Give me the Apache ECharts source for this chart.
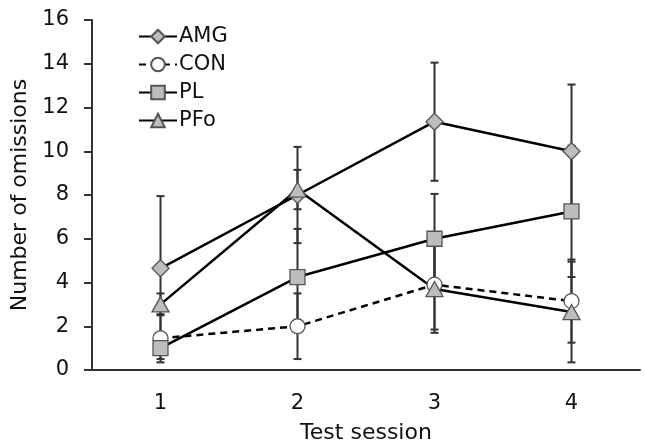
<!DOCTYPE html>
<html>
<head>
<meta charset="utf-8">
<script src="https://cdn.jsdelivr.net/npm/echarts@6/dist/echarts.min.js"></script>
<style>
  html, body { margin: 0; padding: 0; background: #fff; }
  #chart-container { width: 645px; height: 444px; }
</style>
</head>
<body>
<div id="chart-container"></div>
<script>
var sessions = ['1', '2', '3', '4'];

// mean values per group
var amgMean = [4.65, 8.0, 11.35, 10.0];
var conMean = [1.45, 2.0, 3.9, 3.15];
var plMean = [1.0, 4.25, 6.0, 7.25];
var pfoMean = [3.0, 8.25, 3.7, 2.65];

// error bar half-widths
var amgErr = [3.3, 2.2, 2.7, 3.05];
var conErr = [1.1, 1.5, 2.05, 1.9];
var plErr = [0.5, 2.2, 2.05, 3.0];
var pfoErr = [0.5, 0.9, 2.0, 2.3];

var dom = document.getElementById('chart-container');
var myChart = echarts.init(dom, null, { renderer: 'canvas' });

var font = 'DejaVu Sans, Verdana, sans-serif';
var markFill = '#bdbdbd';
var markBorder = '#555';

function errData(mean, err) {
    return mean.map(function (m, i) {
        return [i, m - err[i], m + err[i]];
    });
}

function errSeries(mean, err) {
    return {
        type: 'custom',
        silent: true,
        z: 1,
        renderItem: function (params, api) {
            var x = api.value(0);
            var lo = api.coord([x, api.value(1)]);
            var hi = api.coord([x, api.value(2)]);
            var w = 4;
            var st = { stroke: '#333', lineWidth: 2 };
            return {
                type: 'group',
                children: [
                    { type: 'line', shape: { x1: lo[0], y1: lo[1], x2: hi[0], y2: hi[1] }, style: st },
                    { type: 'line', shape: { x1: lo[0] - w, y1: lo[1], x2: lo[0] + w, y2: lo[1] }, style: st },
                    { type: 'line', shape: { x1: hi[0] - w, y1: hi[1], x2: hi[0] + w, y2: hi[1] }, style: st }
                ]
            };
        },
        data: errData(mean, err)
    };
}

function lineSeries(name, data, symbol, size, fill, dashed) {
    return {
        name: name,
        type: 'line',
        z: 3,
        data: data,
        symbol: symbol,
        symbolSize: size,
        showAllSymbol: true,
        lineStyle: { color: '#000', width: 2.5, type: dashed ? [7, 5] : 'solid' },
        itemStyle: { color: fill, borderColor: markBorder, borderWidth: 1.3 },
        emphasis: { disabled: true }
    };
}

var option = {
    animation: false,
    backgroundColor: '#fff',
    grid: { left: 92, right: 5, top: 20, bottom: 74, containLabel: false, outerBoundsMode: 'none' },
    legend: {
        orient: 'vertical',
        left: 133,
        top: 21,
        itemWidth: 38,
        itemHeight: 17,
        itemGap: 7,
        textStyle: { fontFamily: font, fontSize: 21, color: '#111', padding: [0, 0, 0, -3] },
        data: ['AMG', 'CON', 'PL', 'PFo']
    },
    xAxis: {
        type: 'category',
        data: sessions,
        name: 'Test session',
        nameLocation: 'middle',
        nameGap: 52,
        nameTextStyle: { fontFamily: font, fontSize: 22, color: '#111' },
        axisLine: { lineStyle: { color: '#333', width: 2 } },
        axisTick: { show: false },
        axisLabel: { fontFamily: font, fontSize: 21, color: '#111', margin: 23 }
    },
    yAxis: {
        type: 'value',
        min: 0,
        max: 16,
        interval: 2,
        name: 'Number of omissions',
        nameLocation: 'middle',
        nameGap: 45,
        nameTextStyle: { fontFamily: font, fontSize: 22, color: '#111' },
        axisLine: { show: true, lineStyle: { color: '#333', width: 2 } },
        axisTick: { show: true, length: 8, lineStyle: { color: '#333', width: 2 } },
        splitLine: { show: false },
        axisLabel: { fontFamily: font, fontSize: 21, color: '#111', margin: 23 }
    },
    series: [
        errSeries(amgMean, amgErr),
        errSeries(conMean, conErr),
        errSeries(plMean, plErr),
        errSeries(pfoMean, pfoErr),
        lineSeries('AMG', amgMean, 'diamond', [17, 17], markFill, false),
        lineSeries('CON', conMean, 'circle', 15, '#fff', true),
        lineSeries('PL', plMean, 'rect', 15, markFill, false),
        lineSeries('PFo', pfoMean, 'triangle', [17, 15], markFill, false)
    ]
};

myChart.setOption(option);
window.addEventListener('resize', myChart.resize);
</script>
</body>
</html>
